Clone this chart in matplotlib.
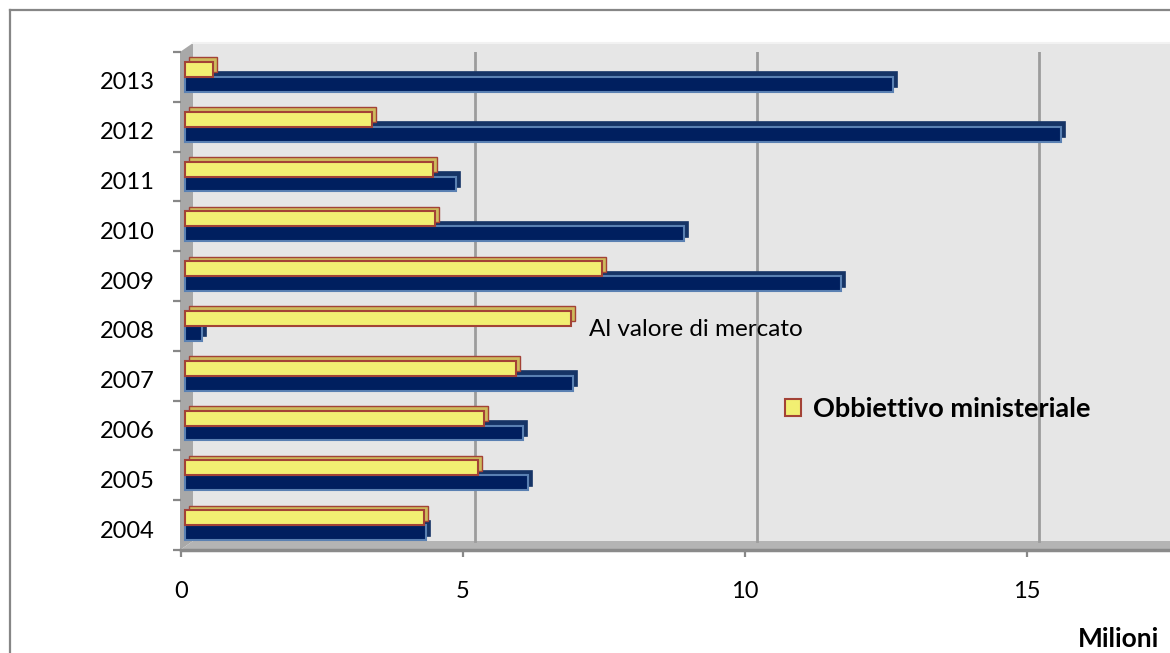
import numpy as np
import matplotlib
matplotlib.use("Agg")
import matplotlib.pyplot as plt
from matplotlib.patches import Polygon, Rectangle
from matplotlib.transforms import ScaledTranslation

# data (milioni)
anni = ["2004", "2005", "2006", "2007", "2008", "2009", "2010", "2011", "2012", "2013"]
mercato = [4.27, 6.08, 6.00, 6.88, 0.30, 11.63, 8.84, 4.80, 15.54, 12.55]
obbiettivo = [4.24, 5.20, 5.30, 5.86, 6.84, 7.40, 4.43, 4.40, 3.32, 0.50]
serie = ["Al valore di mercato", "Obbiettivo ministeriale"]
xticks = [0, 5, 10, 15]

plt.rcParams['font.family'] = ['Lato', 'DejaVu Sans']

W, H, DPI = 1170, 653, 100
fig = plt.figure(figsize=(W / DPI, H / DPI), dpi=DPI)
fig.patch.set_facecolor('white')

# pixel layout of the front plane and 3d depth
X0, YTOP, YBOT = 181, 52, 550
PXU = 56.4           # pixels per milione
BX, BY = 12, 9       # back wall shift
grey = '#888888'

def px(dx, dy):
    return ScaledTranslation(dx / DPI, dy / DPI, fig.dpi_scale_trans)

# background: frame, walls, floor
bg = fig.add_axes([0, 0, 1, 1], zorder=0)
bg.set_xlim(0, W)
bg.set_ylim(H, 0)
bg.axis('off')
bg.plot([10, W], [10, 10], color='#868686', lw=1.6)
bg.plot([10, 10], [10, H], color='#868686', lw=1.6)
bg.add_patch(Rectangle((X0 + BX, YTOP - BY), W - X0 - BX, YBOT - YTOP, color='#e6e6e6', lw=0))
bg.plot([X0 + BX, W], [YTOP - BY, YTOP - BY], color='#f2f2f2', lw=1.5)
bg.add_patch(Polygon([(X0 - 1, YTOP), (X0 + BX, YTOP - BY), (X0 + BX, YBOT - BY), (X0 - 1, YBOT)],
                     closed=True, color='#a8a8a8', lw=0))
bg.add_patch(Polygon([(X0 - 1, YBOT), (X0 + BX, YBOT - BY), (W, YBOT - BY), (W, YBOT)],
                     closed=True, color='#b4b4b4', lw=0))

# main axes on the front plane
ax = fig.add_axes([X0 / W, (H - YBOT) / H, (W - X0) / W, (YBOT - YTOP) / H], zorder=1)
ax.patch.set_visible(False)
ax.set_xlim(0, (W - X0) / PXU)
ax.set_ylim(-0.5, len(anni) - 0.5)
for s in ['top', 'right', 'left']:
    ax.spines[s].set_visible(False)
ax.spines['bottom'].set_color('#8a8a8a')
ax.spines['bottom'].set_linewidth(2.5)

# gridlines on the back wall
for v in xticks[1:]:
    ax.plot([v, v], [0, 1], color='#9c9c9c', lw=2, zorder=1,
            transform=ax.get_xaxis_transform() + px(BX, BY))

y = np.arange(len(anni))
h = 0.3
shift = px(4, 0)
depth = px(4 + 4, 4.5)

# blue series: depth copy then front face
ax.barh(y - h / 2, mercato, height=h, color='#163466', edgecolor='#163466', lw=1.2,
        transform=ax.transData + depth, zorder=2)
b1 = ax.barh(y - h / 2, mercato, height=h, color='#001f5f', edgecolor='#5a80b2', lw=1.5,
             transform=ax.transData + shift, zorder=3, label=serie[0])
# yellow series
ax.barh(y + h / 2, obbiettivo, height=h, color='#cdbb5c', edgecolor='#a34236', lw=1.0,
        transform=ax.transData + depth, zorder=4)
b2 = ax.barh(y + h / 2, obbiettivo, height=h, color='#f2ef72', edgecolor='#a34236', lw=1.5,
             transform=ax.transData + shift, zorder=5, label=serie[1])

# ticks
ax.set_yticks(np.arange(-0.5, len(anni), 1))
ax.set_yticklabels([])
ax.set_yticks(y, minor=True)
ax.set_yticklabels(anni, minor=True, fontsize=17)
ax.tick_params(axis='y', which='major', length=6, width=1.6, color=grey, direction='out')
ax.tick_params(axis='y', which='minor', length=0, pad=19)
for lab in ax.get_yticklabels(minor=True):
    lab.set_transform(lab.get_transform() + px(0, -4))
ax.set_xticks(xticks)
ax.set_xticklabels([str(v) for v in xticks], fontsize=17)
ax.tick_params(axis='x', length=5, width=1.6, color=grey, pad=17)

# legend entries
fig.text(589 / W, 1 - 330 / H, serie[0], fontsize=17.5, va='center', ha='left')
fig.legend(handles=[b2], labels=[serie[1]], loc='center left',
           bbox_to_anchor=(785 / W, 1 - 409 / H), frameon=False,
           prop={'weight': 'bold', 'size': 19.5}, handlelength=0.6, handleheight=0.6,
           handletextpad=0.45, borderpad=0, borderaxespad=0)

fig.text(1159 / W, 2 / H, "Milioni", fontsize=19, fontweight='bold', va='bottom', ha='right')

fig.savefig("out.png", dpi=DPI)
